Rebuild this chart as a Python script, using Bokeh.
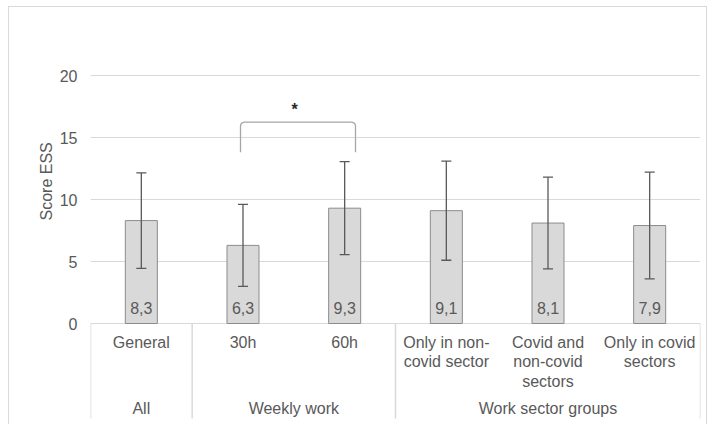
import numpy as np
from bokeh.plotting import figure
from bokeh.models import Range1d, FixedTicker, Title
from bokeh.core.properties import value
from bokeh.embed import file_html
from bokeh.resources import INLINE

# ---- data ----
categories = ["General", "30h", "60h", "Only in non-\ncovid sector",
              "Covid and\nnon-covid\nsectors", "Only in covid\nsectors"]
means = [8.3, 6.3, 9.3, 9.1, 8.1, 7.9]
mean_labels = ["8,3", "6,3", "9,3", "9,1", "8,1", "7,9"]
sds = [3.85, 3.3, 3.75, 4.0, 3.7, 4.3]
groups = ["All", "Weekly work", "Work sector groups"]
group_sizes = [1, 2, 3]
y_ticks = [0, 5, 10, 15, 20]

FONT = "Liberation Sans"
TXT = "#595959"
GRID = "#d9d9d9"

# page placement of the chart box (absolute window pixels)
OX, OY = 9, 7                  # canvas origin (inside 1px border)
W, H = 699, 418
left_px, right_px, top_px, bottom_px = 90, 700, 26, 420
zero_px = 323
ppu = 12.4                     # pixels per y unit
xpu = (right_px - left_px) / len(categories)

y_start = -(bottom_px - zero_px) / ppu
y_end = (zero_px - top_px) / ppu

p = figure(width=W, height=H, output_backend="svg", toolbar_location=None,
           x_range=Range1d(0, len(categories)), y_range=Range1d(y_start, y_end),
           min_border_left=left_px - OX, min_border_right=OX + W - right_px,
           min_border_top=top_px - OY, min_border_bottom=OY + H - bottom_px)
p.styles = {"border": "1px solid #d9d9d9", "border-bottom": "none",
            "margin-left": "8px", "margin-top": "6px"}
p.outline_line_color = None
p.background_fill_color = "white"
p.border_fill_color = "white"
p.xaxis.visible = False
p.xgrid.visible = False
p.ygrid.ticker = FixedTicker(ticks=y_ticks)
p.ygrid.grid_line_color = GRID
p.ygrid.grid_line_width = 1
p.yaxis.ticker = FixedTicker(ticks=y_ticks)
p.yaxis.axis_line_color = None
p.yaxis.major_tick_line_color = None
p.yaxis.minor_tick_line_color = None
p.yaxis.major_tick_out = 0
p.yaxis.minor_tick_out = 0
p.yaxis.major_label_text_font = FONT
p.yaxis.major_label_text_font_size = "16px"
p.yaxis.major_label_text_color = TXT
p.yaxis.major_label_standoff = 13

xs = np.arange(len(categories)) + 0.5
means_a = np.array(means)
sds_a = np.array(sds)

# bars
p.vbar(x=xs, top=means_a, bottom=0, width=0.315, fill_color="#d9d9d9",
       line_color="#8c8c8c", line_width=1)

# error bars
cap = 5 / xpu
p.segment(x0=xs, y0=means_a - sds_a, x1=xs, y1=means_a + sds_a,
          line_color="#595959", line_width=1.3)
p.segment(x0=xs - cap, y0=means_a + sds_a, x1=xs + cap, y1=means_a + sds_a,
          line_color="#595959", line_width=1.3)
p.segment(x0=xs - cap, y0=means_a - sds_a, x1=xs + cap, y1=means_a - sds_a,
          line_color="#595959", line_width=1.3)

# value labels
p.text(x=xs, y=[16 / ppu] * len(xs), text=mean_labels, text_align="center",
       text_baseline="middle", text_font=value(FONT), text_font_size="16px",
       text_color=TXT)

# category labels
p.text(x=xs, y=[-10 / ppu] * len(xs), text=categories, text_align="center",
       text_baseline="top", text_font=value(FONT), text_font_size="16px",
       text_color=TXT, text_line_height=1.15)

# group separators & labels
bounds = np.concatenate([[0], np.cumsum(group_sizes)])
sep_bottom = -(418 - zero_px) / ppu
p.segment(x0=bounds, y0=[0] * len(bounds), x1=bounds, y1=[sep_bottom] * len(bounds),
          line_color=GRID, line_width=1.5)
gcent = (bounds[:-1] + bounds[1:]) / 2
p.text(x=gcent, y=[-(408 - zero_px) / ppu] * len(gcent), text=groups,
       text_align="center", text_baseline="middle", text_font=value(FONT),
       text_font_size="16px", text_color=TXT)

# significance bracket
bx0 = (240 - left_px) / xpu
bx1 = (355 - left_px) / xpu
by_top = (zero_px - 121.7) / ppu
by_bot = (zero_px - 151.7) / ppu
rx = 4 / xpu
ry = 4 / ppu
t = np.linspace(0, np.pi / 2, 8)
left_arc_x = bx0 + rx - rx * np.cos(t)
left_arc_y = by_top - ry + ry * np.sin(t)
right_arc_x = bx1 - rx + rx * np.sin(t)
right_arc_y = by_top - ry + ry * np.cos(t)
bxs = np.concatenate([[bx0], left_arc_x, right_arc_x, [bx1]])
bys = np.concatenate([[by_bot], left_arc_y, right_arc_y, [by_bot]])
p.line(bxs, bys, line_color="#a6a6a6", line_width=1.3)
p.text(x=[(294 - left_px) / xpu], y=[(zero_px - 109) / ppu], text=["*"],
       text_align="center", text_baseline="alphabetic", text_font=value(FONT),
       text_font_size="16px", text_font_style="bold", text_color="#262626")

# y axis title (placed in left panel, offset from the bottom of the frame)
p.add_layout(Title(text="Score ESS", align="left", offset=bottom_px - 220,
                   text_font=FONT, text_font_size="16px", text_color=TXT,
                   text_font_style="normal", standoff=4), "left")

open("out.html", "w").write(file_html(p, INLINE))
